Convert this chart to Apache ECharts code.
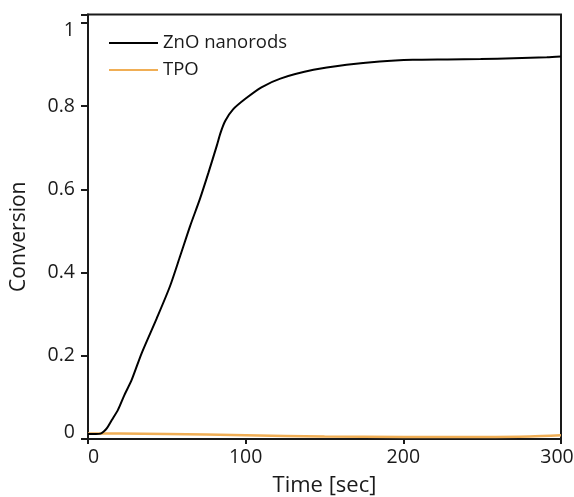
<!DOCTYPE html>
<html>
<head>
<meta charset="utf-8">
<script src="https://cdn.jsdelivr.net/npm/echarts@6/dist/echarts.min.js"></script>
<style>
html,body{margin:0;padding:0;background:#fff;}
#chart{width:574px;height:497px;}
</style>
</head>
<body>
<div id="chart"></div>
<script>
// Data
const seriesNames = ['ZnO nanorods', 'TPO'];
const znoTime = [0, 5, 8, 10, 12, 15, 19, 23, 27.7, 34, 43.6, 52, 58.4, 64.7, 71, 76.4, 81.7, 84, 87, 92, 100, 110, 122, 143, 164, 185, 206, 228, 249, 270, 291, 300];
const znoConv = [0.012, 0.012, 0.013, 0.018, 0.026, 0.045, 0.07, 0.105, 0.142, 0.206, 0.29, 0.367, 0.439, 0.511, 0.577, 0.640, 0.705, 0.735, 0.764, 0.792, 0.818, 0.845, 0.866, 0.887, 0.899, 0.907, 0.911, 0.912, 0.913, 0.915, 0.917, 0.919];
const tpoTime = [0, 20, 50, 100, 150, 200, 250, 280, 300];
const tpoConv = [0.013, 0.013, 0.012, 0.009, 0.006, 0.005, 0.005, 0.006, 0.009];
const xTicks = [0, 100, 200, 300];
const yTicks = [0, 0.2, 0.4, 0.6, 0.8, 1];

const zip = (a, b) => a.map((v, i) => [v, b[i]]);
const FONT = 'Open Sans';
const TXT = { fontFamily: FONT, fontSize: 19.5, color: '#1a1a1a' };
const chart = echarts.init(document.getElementById('chart'));
chart.setOption({
  animation: false,
  backgroundColor: '#fff',
  grid: { left: 88, right: 13, top: 14.5, bottom: 58, show: true, borderColor: '#1a1a1a', borderWidth: 2,
    backgroundColor: 'transparent', containLabel: false, outerBoundsMode: 'none' },
  legend: {
    data: seriesNames, orient: 'vertical', left: 104, top: 28.5,
    icon: 'rect', itemWidth: 49, itemHeight: 2, itemGap: 8,
    textStyle: { fontFamily: FONT, fontSize: 18.5, color: '#1a1a1a' }
  },
  xAxis: {
    type: 'value', min: 0, max: 300, interval: 100,
    name: 'Time [sec]', nameLocation: 'middle', nameGap: 36,
    nameTextStyle: { fontFamily: FONT, fontSize: 22, color: '#1a1a1a' },
    axisLine: { show: true, lineStyle: { color: '#1a1a1a', width: 2 } },
    axisTick: { show: true, length: 5, lineStyle: { color: '#1a1a1a', width: 2 } },
    axisLabel: Object.assign({}, TXT, { margin: 8, alignMinLabel: 'left',
      formatter: v => {
        if (!xTicks.includes(v)) return '';
        if (v === 300) return '{r|300}';
        return String(v);
      },
      rich: { r: Object.assign({}, TXT, { padding: [0, 8, 0, 0] }) }
    }),
    splitLine: { show: false }
  },
  yAxis: {
    type: 'value', min: 0, max: 1.02, interval: 0.2,
    name: 'Conversion', nameLocation: 'middle', nameGap: 58,
    nameTextStyle: { fontFamily: FONT, fontSize: 21, color: '#1a1a1a', padding: [0, 20, 0, 0] },
    axisLine: { show: true, lineStyle: { color: '#1a1a1a', width: 2 } },
    axisTick: { show: true, length: 7, lineStyle: { color: '#1a1a1a', width: 2 } },
    axisLabel: Object.assign({}, TXT, { margin: 13,
      formatter: v => {
        const t = yTicks.find(k => Math.abs(k - v) < 1e-6);
        if (t === undefined) return '';
        if (t === 1) return '{top|1}';
        if (t === 0) return '{bot|0}';
        return String(t);
      },
      rich: {
        top: Object.assign({}, TXT, { padding: [16, 0, 0, 0] }),
        bot: Object.assign({}, TXT, { padding: [0, 0, 14, 0] })
      }
    }),
    splitLine: { show: false }
  },
  series: [
    { name: seriesNames[0], type: 'line', data: zip(znoTime, znoConv), symbol: 'none', smooth: 0.25, z: 3,
      lineStyle: { color: '#000', width: 2 }, itemStyle: { color: '#000' } },
    { name: seriesNames[1], type: 'line', data: zip(tpoTime, tpoConv), symbol: 'none', smooth: 0.3, z: 2,
      lineStyle: { color: '#F0AE55', width: 2.5 }, itemStyle: { color: '#F0AE55' } }
  ]
});
</script>
</body>
</html>
